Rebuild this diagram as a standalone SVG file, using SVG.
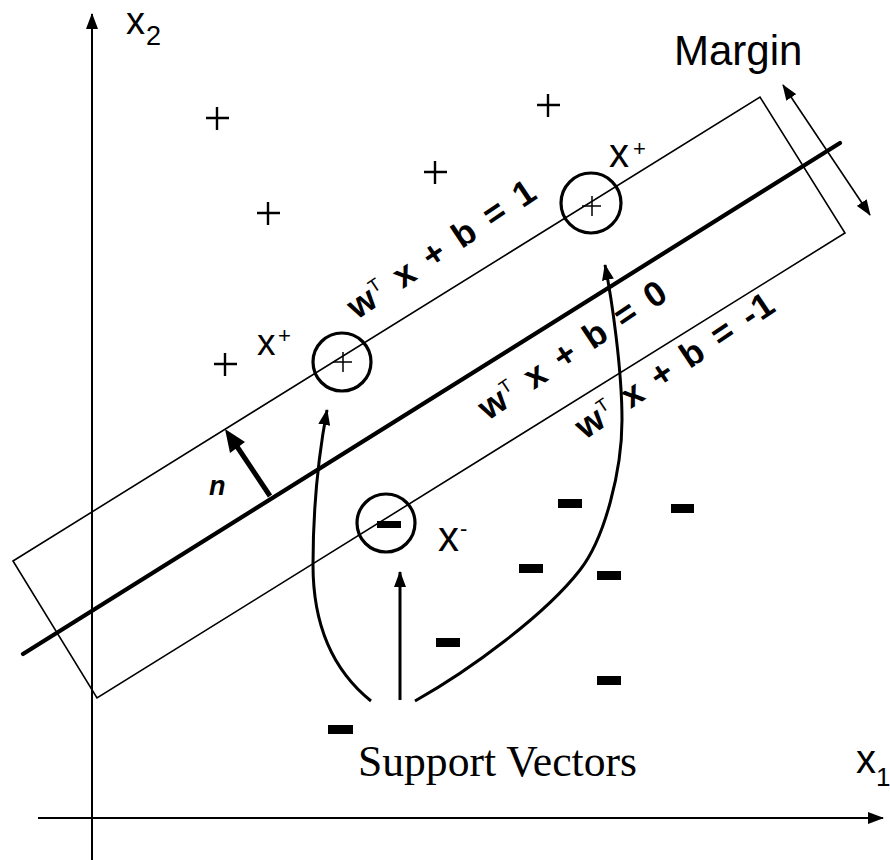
<svg xmlns="http://www.w3.org/2000/svg" width="890" height="860" viewBox="0 0 890 860">
<style>
.ax{stroke:#000;stroke-width:2;fill:none}
.thin{stroke:#000;stroke-width:1.6;fill:none}
.circ{stroke:#000;stroke-width:3.2;fill:none}
.pl{stroke:#000;stroke-width:2.4;fill:none}
.plc{stroke:#000;stroke-width:1.5;fill:none}
.sv{stroke:#000;stroke-width:3;fill:none}
.lbl{font-family:"Liberation Sans",Arial,sans-serif;fill:#000}
.eq{font-family:"Liberation Sans",Arial,sans-serif;font-weight:bold;font-size:35px;fill:#000;letter-spacing:1px;word-spacing:4px}
.sup{font-size:18px;font-weight:normal}
</style>
<defs>
<marker id="ah" viewBox="0 0 16 12" refX="15" refY="6" markerWidth="16" markerHeight="12" markerUnits="userSpaceOnUse" orient="auto-start-reverse">
<path d="M0,0 L16,6 L0,12 z" fill="#000"/>
</marker>
</defs>
<rect width="890" height="860" fill="#fff"/>
<g id="axes">
<line class="ax" x1="92" y1="860" x2="92" y2="14" marker-end="url(#ah)"/>
<line class="ax" x1="38" y1="818" x2="883" y2="818" marker-end="url(#ah)"/>
<text class="lbl" x="126" y="34" font-size="38">x</text>
<text class="lbl" x="146" y="45" font-size="27">2</text>
<text class="lbl" x="856" y="773" font-size="40">x</text>
<text class="lbl" x="876" y="786" font-size="26">1</text>
</g>
<g id="margin-box">
<polygon class="thin" points="13,561 760,97 845,233 97,698"/>
</g>
<g id="hyperplane">
<line x1="23" y1="654" x2="840" y2="143" stroke="#000" stroke-width="4.2" stroke-linecap="round"/>
</g>
<g id="margin-label">
<text class="lbl" x="674" y="65" font-size="42">Margin</text>
<line class="thin" x1="783" y1="85" x2="870" y2="215" stroke-width="2" marker-start="url(#ah)" marker-end="url(#ah)"/>
</g>
<g id="positive-points">
<path class="pl" d="M206,118h23M217,107v23"/>
<path class="pl" d="M257,213h23M268,202v23"/>
<path class="pl" d="M424,172h23M435,161v23"/>
<path class="pl" d="M537,105h23M548,94v23"/>
<path class="pl" d="M214,364h23M225,353v23"/>
</g>
<g id="negative-points" fill="#000">
<rect x="558" y="499" width="24" height="9"/>
<rect x="671" y="504" width="23" height="9"/>
<rect x="519" y="564" width="24" height="9"/>
<rect x="597" y="571" width="24" height="9"/>
<rect x="436" y="638" width="24" height="9"/>
<rect x="597" y="676" width="24" height="9"/>
<rect x="328" y="725" width="25" height="9"/>
</g>
<g id="sv-plus-left">
<circle class="circ" cx="342" cy="362" r="29"/>
<path class="plc" d="M333,362h19M343,352v20"/>
<text class="lbl" x="257" y="355" font-size="37">x</text>
<text class="lbl" x="278" y="343" font-size="22">+</text>
</g>
<g id="sv-plus-right">
<circle class="circ" cx="591" cy="203" r="30"/>
<path class="plc" d="M582,206h19M592,196v20"/>
<text class="lbl" x="609" y="167" font-size="40">x</text>
<text class="lbl" x="633" y="156" font-size="22">+</text>
</g>
<g id="sv-minus">
<circle class="circ" cx="386" cy="523" r="29"/>
<rect x="377" y="521" width="24" height="7" fill="#000"/>
<text class="lbl" x="438" y="551" font-size="42">x</text>
<text class="lbl" x="460" y="536" font-size="22">-</text>
</g>
<g id="equations">
<text class="eq" transform="translate(357,320) rotate(-34)">w<tspan class="sup" dy="-13">T</tspan><tspan dy="13"> x + b = 1</tspan></text>
<text class="eq" transform="translate(488,421) rotate(-34)">w<tspan class="sup" dy="-13">T</tspan><tspan dy="13"> x + b = 0</tspan></text>
<text class="eq" transform="translate(585,440) rotate(-34)">w<tspan class="sup" dy="-13">T</tspan><tspan dy="13"> x + b = -1</tspan></text>
</g>
<g id="normal">
<line x1="270" y1="496" x2="236" y2="445" stroke="#000" stroke-width="5"/>
<polygon points="225,429 245,442 230,453" fill="#000"/>
<text class="lbl" x="209" y="495" font-size="27" font-weight="bold" font-style="italic">n</text>
</g>
<g id="connectors">
<path class="sv" d="M371,701 C335,672 313,630 313,565 C313,510 318,458 327,410" marker-end="url(#ah)"/>
<line class="sv" x1="400" y1="700" x2="400" y2="572" marker-end="url(#ah)"/>
<path class="sv" d="M415,701 C470,670 545,615 580,570 C605,538 622,470 622,420 C622,370 612,300 605,265" marker-end="url(#ah)"/>
</g>
<g id="sv-label">
<text x="358" y="776" font-family="'Liberation Serif','Times New Roman',serif" font-size="44" textLength="279" lengthAdjust="spacingAndGlyphs" fill="#000">Support Vectors</text>
</g>
</svg>
